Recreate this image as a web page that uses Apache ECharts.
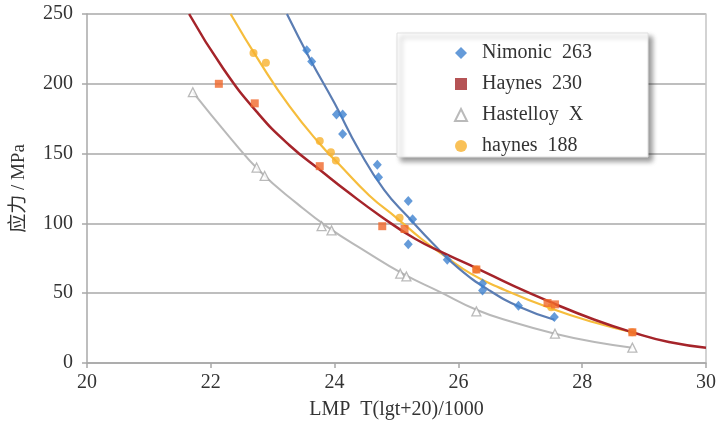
<!DOCTYPE html>
<html>
<head>
<meta charset="utf-8">
<title>LMP</title>
<script src="https://cdn.jsdelivr.net/npm/echarts@6/dist/echarts.min.js"></script>
</head>
<body style="margin:0;background:#fff">
<div id="main" style="width:719px;height:425px;"></div>
<script>
// axis ranges
var xRange = [20, 30, 2];
var yRange = [0, 250, 50];

// measured points [LMP, stress]
var nimonicPts = [[23.55,224],[23.63,216],[24.03,178],[24.13,178],[24.13,164],[24.69,142],[24.71,133],[25.19,116],[25.26,103],[25.19,85],[25.82,74],[26.39,57],[26.39,52],[26.97,41],[27.55,33]];
var haynes230Pts = [[22.13,200],[22.71,186],[23.76,141],[24.77,98],[25.13,96],[26.29,67],[27.44,43],[27.56,42],[28.81,22]];
var hastelloyPts = [[21.71,194],[22.74,140],[22.87,134],[23.79,98],[23.95,95],[25.06,64],[25.16,62],[26.29,37],[27.56,21],[28.81,11]];
var haynes188Pts = [[22.69,222],[22.89,215],[23.76,159],[23.94,151],[24.02,145],[25.05,104],[26.29,67],[27.5,40],[28.81,22]];

// trend lines
var nimonicFit = [[23.23,250],[23.6,218],[24.0,186],[24.4,152],[24.8,124],[25.2,104],[25.6,85],[26.0,68],[26.5,52],[27.0,40],[27.55,31]];
var haynes230Fit = [[21.65,250],[22.2,211],[22.76,179],[23.27,156],[23.8,137],[24.2,123],[24.75,105],[25.3,89],[25.8,78],[26.29,68],[26.9,55],[27.52,43],[28.2,31],[28.81,22],[29.4,15],[30,11]];
var hastelloyFit = [[21.71,194],[22.3,162],[22.8,137],[23.4,114],[23.9,97],[24.5,80],[25.1,64],[25.7,51],[26.3,38],[26.9,29],[27.56,21],[28.2,15],[28.81,11]];
var haynes188Fit = [[22.32,250],[22.8,215],[23.27,184],[23.76,157],[24.08,142],[24.56,120],[25.0,104],[25.4,89],[25.8,76],[26.2,64],[26.66,54],[27.5,39],[28.2,29],[28.81,22]];

var names = ['Nimonic  263', 'Haynes  230', 'Hastelloy  X', 'haynes  188'];

var serif = '"Liberation Serif", "Noto Sans CJK SC", serif';
var gridGray = '#a8a8a8';

function fitLine(data, color, width) {
    return {
        type: 'line', data: data, smooth: true, showSymbol: false, silent: true,
        lineStyle: { color: color, width: width }, z: 1
    };
}

var myChart = echarts.init(document.getElementById('main'));
var option = {
    backgroundColor: '#fff',
    animation: false,
    grid: { left: 87, right: 12, top: 14, bottom: 58 },
    xAxis: {
        type: 'value', min: xRange[0], max: xRange[1], interval: xRange[2],
        name: 'LMP  T(lgt+20)/1000', nameLocation: 'middle', nameGap: 37,
        nameTextStyle: { fontFamily: serif, fontSize: 20, color: '#333' },
        axisLine: { lineStyle: { color: gridGray, width: 1.5 } },
        axisTick: { show: true, length: 5, lineStyle: { color: gridGray, width: 1.5 } },
        axisLabel: { fontFamily: serif, fontSize: 20, color: '#333', margin: 10 },
        splitLine: { show: false }
    },
    yAxis: [{
        type: 'value', min: yRange[0], max: yRange[1], interval: yRange[2],
        name: '应力 / MPa', nameLocation: 'middle', nameGap: 58,
        nameTextStyle: { fontFamily: serif, fontSize: 19, color: '#333' },
        axisLine: { show: true, lineStyle: { color: gridGray, width: 1.5 } },
        axisTick: { show: true, length: 5, lineStyle: { color: gridGray, width: 1.5 } },
        axisLabel: { fontFamily: serif, fontSize: 20, color: '#333', margin: 14 },
        splitLine: { lineStyle: { color: gridGray, width: 1.5 } }
    }, {
        type: 'value', min: yRange[0], max: yRange[1], position: 'right',
        axisLine: { show: true, lineStyle: { color: '#c4c4c4', width: 1.5 } },
        axisTick: { show: false }, axisLabel: { show: false }, splitLine: { show: false }
    }],
    graphic: {
        elements: [{
            type: 'rect', z: 3,
            shape: { x: 397, y: 33, width: 251, height: 124 },
            style: {
                fill: '#fff', stroke: '#e0e0e0', lineWidth: 1,
                shadowBlur: 5, shadowOffsetX: 4, shadowOffsetY: 4, shadowColor: 'rgba(0,0,0,0.4)'
            }
        }]
    },
    legend: {
        orient: 'vertical', left: 454, top: 43, padding: 0,
        itemWidth: 12, itemHeight: 12, itemGap: 11,
        formatter: function (name) { return '  ' + name; },
        textStyle: { fontFamily: serif, fontSize: 20, color: '#333' },
        data: [
            { name: names[0] },
            { name: names[1], itemStyle: { color: '#a3282a' } },
            { name: names[2] },
            { name: names[3] }
        ]
    },
    series: [
        fitLine(hastelloyFit, '#b9b9b9', 2),
        fitLine(haynes188Fit, '#f6bd3c', 2.2),
        fitLine(nimonicFit, '#5b7db3', 2.2),
        fitLine(haynes230Fit, '#a5242a', 2.5),
        {
            name: names[0], type: 'scatter', data: nimonicPts, symbol: 'diamond', symbolSize: [9, 10],
            itemStyle: { color: '#3f82d0' }, z: 3
        },
        {
            name: names[3], type: 'scatter', data: haynes188Pts, symbol: 'circle', symbolSize: 8,
            itemStyle: { color: '#f8b12e' }, z: 3
        },
        {
            name: names[2], type: 'scatter', data: hastelloyPts, symbol: 'triangle', symbolSize: 9,
            itemStyle: { color: '#fff', borderColor: '#a9a9a9', borderWidth: 1.3 }, z: 3
        },
        {
            name: names[1], type: 'scatter', data: haynes230Pts, symbol: 'rect', symbolSize: 8,
            itemStyle: { color: '#f0682a' }, z: 4
        }
    ]
};
myChart.setOption(option);
</script>
</body>
</html>
